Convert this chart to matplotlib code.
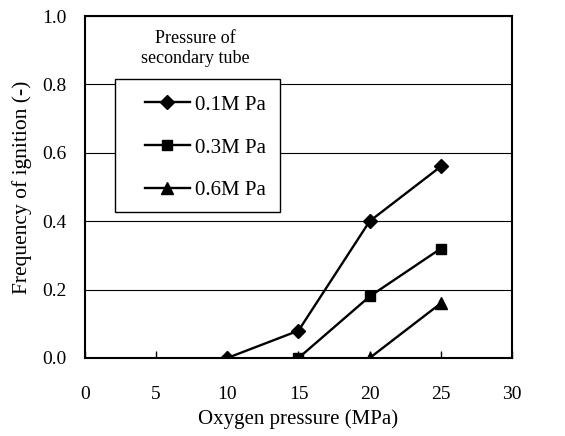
import matplotlib.pyplot as plt
from matplotlib.patches import Rectangle
import numpy as np

plt.rcParams['font.family'] = ['Liberation Serif', 'DejaVu Serif']

x_01 = [10, 15, 20, 25]
y_01 = [0.0, 0.08, 0.40, 0.56]
x_03 = [15, 20, 25]
y_03 = [0.0, 0.18, 0.32]
x_06 = [20, 25]
y_06 = [0.0, 0.16]
labels = ['0.1M Pa', '0.3M Pa', '0.6M Pa']

fig = plt.figure(figsize=(5.65, 4.36), dpi=100)
ax = fig.add_axes([0.1504, 0.1789, 0.7558, 0.7844])

ax.plot(x_01, y_01, color='black', lw=1.7, marker='D', ms=7.5, label=labels[0])
ax.plot(x_03, y_03, color='black', lw=1.7, marker='s', ms=7.5, label=labels[1])
ax.plot(x_06, y_06, color='black', lw=1.7, marker='^', ms=9, label=labels[2])

ax.set_xlim(0, 30)
ax.set_ylim(0, 1.0)
ax.set_xticks(np.arange(0, 31, 5))
ax.set_yticks(np.arange(0, 1.01, 0.2))
ax.set_yticklabels(['%.1f' % v for v in np.arange(0, 1.01, 0.2)])
ax.tick_params(axis='x', direction='in', length=5, width=1, labelsize=14, pad=20)
ax.tick_params(axis='y', length=0, labelsize=14, pad=13.5)
for s in ax.spines.values():
    s.set_linewidth(1.5)
ax.grid(axis='y', color='black', lw=0.8)
ax.set_axisbelow(True)

ax.set_xlabel('Oxygen pressure (MPa)', fontsize=15, labelpad=5)
ax.set_ylabel('Frequency of ignition (-)', fontsize=15.5, labelpad=7)

# legend box drawn separately so the padding matches
box = Rectangle((0.0703, 0.4269), 0.3864, 0.3889, transform=ax.transAxes,
                facecolor='white', edgecolor='black', lw=1, zorder=3)
ax.add_patch(box)
leg = ax.legend(loc='upper left', bbox_to_anchor=(0.1405, 0.769), fontsize=15,
                frameon=False, handlelength=2.16, labelspacing=1.12, borderpad=0,
                handletextpad=0.25, borderaxespad=0)
leg.set_zorder(4)
ax.text(0.258, 0.96, 'Pressure of\nsecondary tube', transform=ax.transAxes,
        ha='center', va='top', fontsize=13, linespacing=1.25)

plt.savefig('out.png', dpi=100)
